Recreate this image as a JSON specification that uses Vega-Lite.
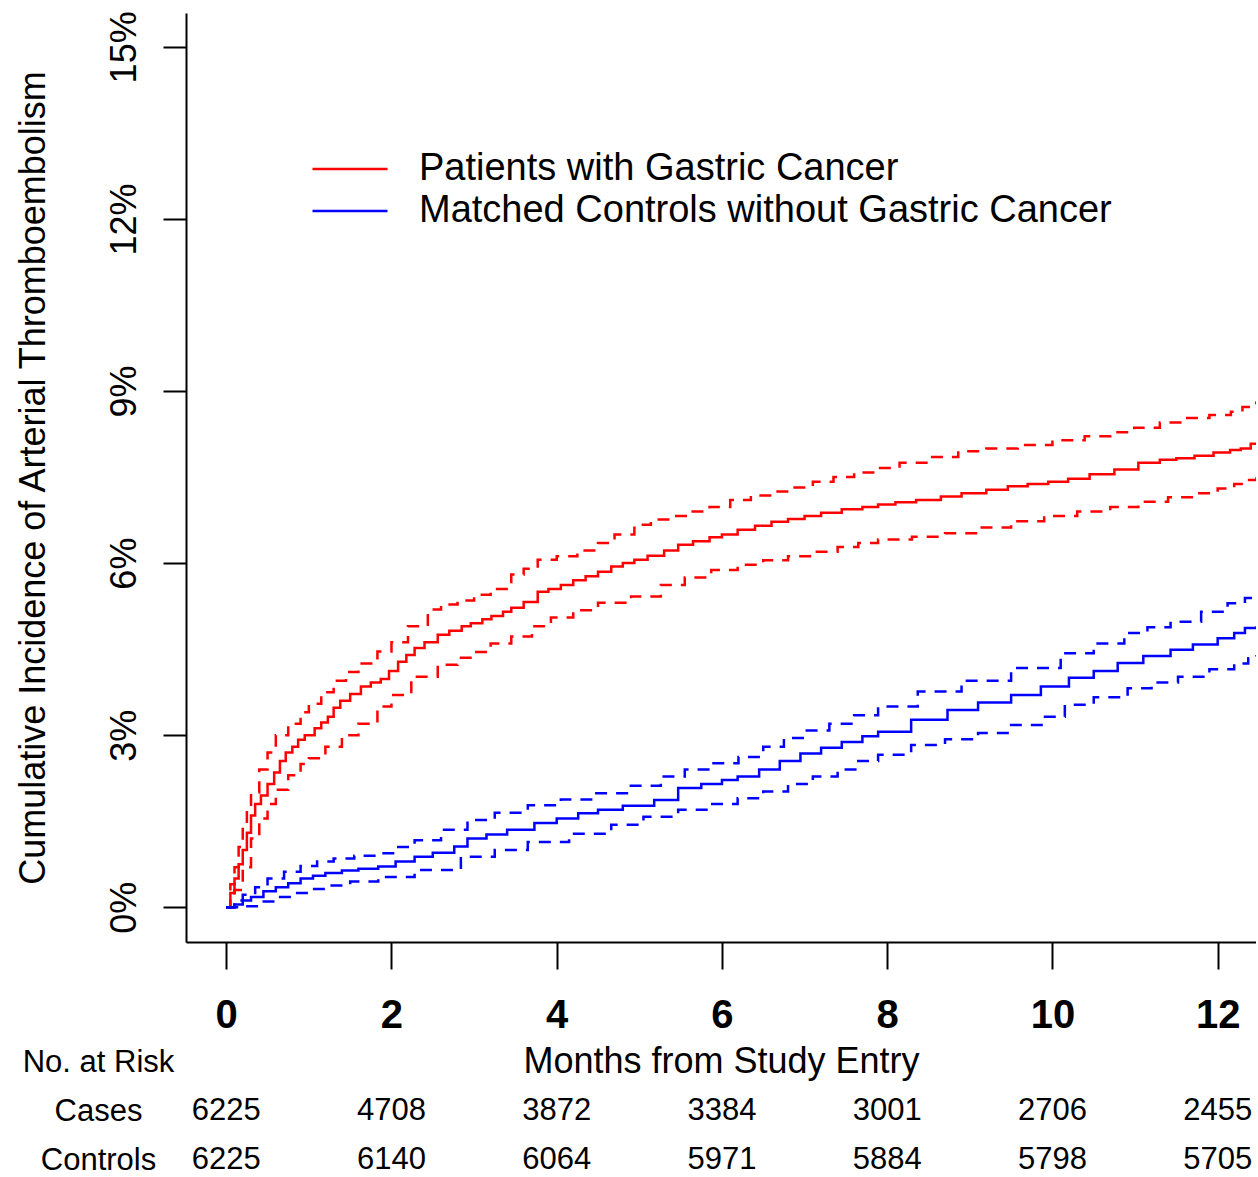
{
  "$schema": "https://vega.github.io/schema/vega-lite/v6.json",
  "background": "white",
  "padding": {"left": 14, "top": 10, "right": 0, "bottom": 0},
  "bounds": "flush",
  "spacing": 95.5,
  "config": {
    "view": {"stroke": null},
    "font": "Liberation Sans",
    "text": {"font": "Liberation Sans"},
    "axis": {"grid": false, "domainColor": "black", "tickColor": "black", "labelColor": "black", "titleColor": "black", "domainWidth": 2, "tickWidth": 2, "labelFont": "Liberation Sans", "titleFont": "Liberation Sans", "titleFontWeight": "normal"},
    "legend": {"labelFont": "Liberation Sans"}
  },
  "datasets": {
    "curves": [
      {"group":"Cases","line":"est","month":0,"pct":0},{"group":"Cases","line":"est","month":0.05,"pct":0.25},{"group":"Cases","line":"est","month":0.1,"pct":0.5},{"group":"Cases","line":"est","month":0.15,"pct":0.75},{"group":"Cases","line":"est","month":0.2,"pct":1.0},{"group":"Cases","line":"est","month":0.25,"pct":1.3},{"group":"Cases","line":"est","month":0.3,"pct":1.6},{"group":"Cases","line":"est","month":0.35,"pct":1.8},{"group":"Cases","line":"est","month":0.42,"pct":1.95},{"group":"Cases","line":"est","month":0.5,"pct":2.15},{"group":"Cases","line":"est","month":0.58,"pct":2.35},{"group":"Cases","line":"est","month":0.65,"pct":2.55},{"group":"Cases","line":"est","month":0.72,"pct":2.7},{"group":"Cases","line":"est","month":0.8,"pct":2.8},{"group":"Cases","line":"est","month":0.87,"pct":2.92},{"group":"Cases","line":"est","month":0.95,"pct":3.0},{"group":"Cases","line":"est","month":1.07,"pct":3.12},{"group":"Cases","line":"est","month":1.15,"pct":3.22},{"group":"Cases","line":"est","month":1.23,"pct":3.32},{"group":"Cases","line":"est","month":1.3,"pct":3.48},{"group":"Cases","line":"est","month":1.38,"pct":3.6},{"group":"Cases","line":"est","month":1.5,"pct":3.72},{"group":"Cases","line":"est","month":1.63,"pct":3.85},{"group":"Cases","line":"est","month":1.75,"pct":3.92},{"group":"Cases","line":"est","month":1.87,"pct":3.98},{"group":"Cases","line":"est","month":1.97,"pct":4.12},{"group":"Cases","line":"est","month":2.08,"pct":4.28},{"group":"Cases","line":"est","month":2.18,"pct":4.4},{"group":"Cases","line":"est","month":2.28,"pct":4.52},{"group":"Cases","line":"est","month":2.4,"pct":4.62},{"group":"Cases","line":"est","month":2.56,"pct":4.75},{"group":"Cases","line":"est","month":2.7,"pct":4.82},{"group":"Cases","line":"est","month":2.85,"pct":4.9},{"group":"Cases","line":"est","month":2.96,"pct":4.95},{"group":"Cases","line":"est","month":3.1,"pct":5.02},{"group":"Cases","line":"est","month":3.21,"pct":5.08},{"group":"Cases","line":"est","month":3.35,"pct":5.15},{"group":"Cases","line":"est","month":3.45,"pct":5.22},{"group":"Cases","line":"est","month":3.6,"pct":5.32},{"group":"Cases","line":"est","month":3.77,"pct":5.5},{"group":"Cases","line":"est","month":3.9,"pct":5.55},{"group":"Cases","line":"est","month":4.05,"pct":5.62},{"group":"Cases","line":"est","month":4.2,"pct":5.7},{"group":"Cases","line":"est","month":4.35,"pct":5.77},{"group":"Cases","line":"est","month":4.5,"pct":5.85},{"group":"Cases","line":"est","month":4.66,"pct":5.94},{"group":"Cases","line":"est","month":4.8,"pct":6.0},{"group":"Cases","line":"est","month":4.94,"pct":6.06},{"group":"Cases","line":"est","month":5.1,"pct":6.13},{"group":"Cases","line":"est","month":5.3,"pct":6.22},{"group":"Cases","line":"est","month":5.47,"pct":6.32},{"group":"Cases","line":"est","month":5.65,"pct":6.38},{"group":"Cases","line":"est","month":5.85,"pct":6.45},{"group":"Cases","line":"est","month":6.0,"pct":6.5},{"group":"Cases","line":"est","month":6.19,"pct":6.58},{"group":"Cases","line":"est","month":6.4,"pct":6.65},{"group":"Cases","line":"est","month":6.6,"pct":6.72},{"group":"Cases","line":"est","month":6.8,"pct":6.77},{"group":"Cases","line":"est","month":7.0,"pct":6.82},{"group":"Cases","line":"est","month":7.2,"pct":6.88},{"group":"Cases","line":"est","month":7.45,"pct":6.94},{"group":"Cases","line":"est","month":7.7,"pct":6.98},{"group":"Cases","line":"est","month":7.89,"pct":7.02},{"group":"Cases","line":"est","month":8.1,"pct":7.06},{"group":"Cases","line":"est","month":8.35,"pct":7.1},{"group":"Cases","line":"est","month":8.65,"pct":7.16},{"group":"Cases","line":"est","month":8.9,"pct":7.22},{"group":"Cases","line":"est","month":9.2,"pct":7.28},{"group":"Cases","line":"est","month":9.46,"pct":7.34},{"group":"Cases","line":"est","month":9.7,"pct":7.38},{"group":"Cases","line":"est","month":9.95,"pct":7.42},{"group":"Cases","line":"est","month":10.19,"pct":7.47},{"group":"Cases","line":"est","month":10.45,"pct":7.55},{"group":"Cases","line":"est","month":10.75,"pct":7.63},{"group":"Cases","line":"est","month":11.04,"pct":7.75},{"group":"Cases","line":"est","month":11.3,"pct":7.8},{"group":"Cases","line":"est","month":11.5,"pct":7.83},{"group":"Cases","line":"est","month":11.72,"pct":7.87},{"group":"Cases","line":"est","month":11.95,"pct":7.93},{"group":"Cases","line":"est","month":12.15,"pct":7.97},{"group":"Cases","line":"est","month":12.28,"pct":8.0},{"group":"Cases","line":"est","month":12.4,"pct":8.08},{"group":"Cases","line":"est","month":12.47,"pct":8.1},

      {"group":"Cases","line":"upper","month":0,"pct":0},{"group":"Cases","line":"upper","month":0.05,"pct":0.4},{"group":"Cases","line":"upper","month":0.1,"pct":0.7},{"group":"Cases","line":"upper","month":0.15,"pct":1.05},{"group":"Cases","line":"upper","month":0.2,"pct":1.4},{"group":"Cases","line":"upper","month":0.25,"pct":1.7},{"group":"Cases","line":"upper","month":0.3,"pct":2.0},{"group":"Cases","line":"upper","month":0.4,"pct":2.4},{"group":"Cases","line":"upper","month":0.5,"pct":2.7},{"group":"Cases","line":"upper","month":0.6,"pct":3.0},{"group":"Cases","line":"upper","month":0.75,"pct":3.2},{"group":"Cases","line":"upper","month":0.9,"pct":3.4},{"group":"Cases","line":"upper","month":1.0,"pct":3.55},{"group":"Cases","line":"upper","month":1.15,"pct":3.75},{"group":"Cases","line":"upper","month":1.3,"pct":3.95},{"group":"Cases","line":"upper","month":1.45,"pct":4.1},{"group":"Cases","line":"upper","month":1.6,"pct":4.25},{"group":"Cases","line":"upper","month":1.83,"pct":4.46},{"group":"Cases","line":"upper","month":2.0,"pct":4.62},{"group":"Cases","line":"upper","month":2.2,"pct":4.9},{"group":"Cases","line":"upper","month":2.44,"pct":5.19},{"group":"Cases","line":"upper","month":2.6,"pct":5.28},{"group":"Cases","line":"upper","month":2.8,"pct":5.35},{"group":"Cases","line":"upper","month":3.0,"pct":5.45},{"group":"Cases","line":"upper","month":3.2,"pct":5.55},{"group":"Cases","line":"upper","month":3.45,"pct":5.8},{"group":"Cases","line":"upper","month":3.6,"pct":5.9},{"group":"Cases","line":"upper","month":3.77,"pct":6.06},{"group":"Cases","line":"upper","month":4.0,"pct":6.12},{"group":"Cases","line":"upper","month":4.25,"pct":6.22},{"group":"Cases","line":"upper","month":4.5,"pct":6.35},{"group":"Cases","line":"upper","month":4.7,"pct":6.5},{"group":"Cases","line":"upper","month":4.94,"pct":6.67},{"group":"Cases","line":"upper","month":5.14,"pct":6.76},{"group":"Cases","line":"upper","month":5.35,"pct":6.82},{"group":"Cases","line":"upper","month":5.6,"pct":6.9},{"group":"Cases","line":"upper","month":5.85,"pct":6.98},{"group":"Cases","line":"upper","month":6.1,"pct":7.1},{"group":"Cases","line":"upper","month":6.35,"pct":7.18},{"group":"Cases","line":"upper","month":6.6,"pct":7.25},{"group":"Cases","line":"upper","month":6.85,"pct":7.32},{"group":"Cases","line":"upper","month":7.1,"pct":7.42},{"group":"Cases","line":"upper","month":7.35,"pct":7.5},{"group":"Cases","line":"upper","month":7.6,"pct":7.58},{"group":"Cases","line":"upper","month":7.89,"pct":7.66},{"group":"Cases","line":"upper","month":8.15,"pct":7.75},{"group":"Cases","line":"upper","month":8.5,"pct":7.85},{"group":"Cases","line":"upper","month":8.86,"pct":7.95},{"group":"Cases","line":"upper","month":9.2,"pct":8.0},{"group":"Cases","line":"upper","month":9.58,"pct":8.06},{"group":"Cases","line":"upper","month":10.0,"pct":8.14},{"group":"Cases","line":"upper","month":10.39,"pct":8.21},{"group":"Cases","line":"upper","month":10.7,"pct":8.28},{"group":"Cases","line":"upper","month":10.99,"pct":8.36},{"group":"Cases","line":"upper","month":11.3,"pct":8.45},{"group":"Cases","line":"upper","month":11.6,"pct":8.53},{"group":"Cases","line":"upper","month":11.9,"pct":8.58},{"group":"Cases","line":"upper","month":12.16,"pct":8.64},{"group":"Cases","line":"upper","month":12.3,"pct":8.72},{"group":"Cases","line":"upper","month":12.4,"pct":8.79},{"group":"Cases","line":"upper","month":12.47,"pct":8.82},

      {"group":"Cases","line":"lower","month":0,"pct":0},{"group":"Cases","line":"lower","month":0.1,"pct":0.3},{"group":"Cases","line":"lower","month":0.2,"pct":0.7},{"group":"Cases","line":"lower","month":0.3,"pct":1.2},{"group":"Cases","line":"lower","month":0.4,"pct":1.55},{"group":"Cases","line":"lower","month":0.5,"pct":1.8},{"group":"Cases","line":"lower","month":0.6,"pct":2.05},{"group":"Cases","line":"lower","month":0.75,"pct":2.3},{"group":"Cases","line":"lower","month":0.9,"pct":2.5},{"group":"Cases","line":"lower","month":1.0,"pct":2.6},{"group":"Cases","line":"lower","month":1.2,"pct":2.8},{"group":"Cases","line":"lower","month":1.4,"pct":3.0},{"group":"Cases","line":"lower","month":1.6,"pct":3.2},{"group":"Cases","line":"lower","month":1.83,"pct":3.5},{"group":"Cases","line":"lower","month":2.0,"pct":3.7},{"group":"Cases","line":"lower","month":2.24,"pct":4.02},{"group":"Cases","line":"lower","month":2.56,"pct":4.23},{"group":"Cases","line":"lower","month":2.8,"pct":4.35},{"group":"Cases","line":"lower","month":3.0,"pct":4.45},{"group":"Cases","line":"lower","month":3.2,"pct":4.6},{"group":"Cases","line":"lower","month":3.45,"pct":4.72},{"group":"Cases","line":"lower","month":3.7,"pct":4.9},{"group":"Cases","line":"lower","month":3.93,"pct":5.05},{"group":"Cases","line":"lower","month":4.2,"pct":5.18},{"group":"Cases","line":"lower","month":4.5,"pct":5.31},{"group":"Cases","line":"lower","month":4.9,"pct":5.42},{"group":"Cases","line":"lower","month":5.26,"pct":5.62},{"group":"Cases","line":"lower","month":5.55,"pct":5.75},{"group":"Cases","line":"lower","month":5.87,"pct":5.88},{"group":"Cases","line":"lower","month":6.19,"pct":5.97},{"group":"Cases","line":"lower","month":6.5,"pct":6.05},{"group":"Cases","line":"lower","month":6.8,"pct":6.12},{"group":"Cases","line":"lower","month":7.1,"pct":6.2},{"group":"Cases","line":"lower","month":7.4,"pct":6.28},{"group":"Cases","line":"lower","month":7.65,"pct":6.35},{"group":"Cases","line":"lower","month":7.89,"pct":6.41},{"group":"Cases","line":"lower","month":8.3,"pct":6.46},{"group":"Cases","line":"lower","month":8.7,"pct":6.52},{"group":"Cases","line":"lower","month":9.1,"pct":6.62},{"group":"Cases","line":"lower","month":9.5,"pct":6.73},{"group":"Cases","line":"lower","month":9.9,"pct":6.82},{"group":"Cases","line":"lower","month":10.3,"pct":6.9},{"group":"Cases","line":"lower","month":10.7,"pct":6.98},{"group":"Cases","line":"lower","month":11.04,"pct":7.07},{"group":"Cases","line":"lower","month":11.4,"pct":7.15},{"group":"Cases","line":"lower","month":11.72,"pct":7.22},{"group":"Cases","line":"lower","month":12.0,"pct":7.3},{"group":"Cases","line":"lower","month":12.2,"pct":7.38},{"group":"Cases","line":"lower","month":12.33,"pct":7.45},{"group":"Cases","line":"lower","month":12.47,"pct":7.5},

      {"group":"Controls","line":"est","month":0,"pct":0},{"group":"Controls","line":"est","month":0.1,"pct":0.05},{"group":"Controls","line":"est","month":0.2,"pct":0.12},{"group":"Controls","line":"est","month":0.3,"pct":0.18},{"group":"Controls","line":"est","month":0.45,"pct":0.28},{"group":"Controls","line":"est","month":0.6,"pct":0.35},{"group":"Controls","line":"est","month":0.75,"pct":0.42},{"group":"Controls","line":"est","month":0.9,"pct":0.5},{"group":"Controls","line":"est","month":1.05,"pct":0.55},{"group":"Controls","line":"est","month":1.2,"pct":0.6},{"group":"Controls","line":"est","month":1.4,"pct":0.64},{"group":"Controls","line":"est","month":1.6,"pct":0.67},{"group":"Controls","line":"est","month":1.84,"pct":0.71},{"group":"Controls","line":"est","month":2.05,"pct":0.8},{"group":"Controls","line":"est","month":2.28,"pct":0.88},{"group":"Controls","line":"est","month":2.5,"pct":0.95},{"group":"Controls","line":"est","month":2.76,"pct":1.06},{"group":"Controls","line":"est","month":2.92,"pct":1.2},{"group":"Controls","line":"est","month":3.15,"pct":1.27},{"group":"Controls","line":"est","month":3.4,"pct":1.35},{"group":"Controls","line":"est","month":3.73,"pct":1.47},{"group":"Controls","line":"est","month":4.0,"pct":1.55},{"group":"Controls","line":"est","month":4.26,"pct":1.64},{"group":"Controls","line":"est","month":4.5,"pct":1.7},{"group":"Controls","line":"est","month":4.8,"pct":1.77},{"group":"Controls","line":"est","month":5.18,"pct":1.87},{"group":"Controls","line":"est","month":5.47,"pct":2.08},{"group":"Controls","line":"est","month":5.75,"pct":2.15},{"group":"Controls","line":"est","month":6.0,"pct":2.22},{"group":"Controls","line":"est","month":6.19,"pct":2.28},{"group":"Controls","line":"est","month":6.45,"pct":2.4},{"group":"Controls","line":"est","month":6.7,"pct":2.55},{"group":"Controls","line":"est","month":6.95,"pct":2.68},{"group":"Controls","line":"est","month":7.2,"pct":2.78},{"group":"Controls","line":"est","month":7.45,"pct":2.88},{"group":"Controls","line":"est","month":7.7,"pct":2.98},{"group":"Controls","line":"est","month":7.89,"pct":3.06},{"group":"Controls","line":"est","month":8.29,"pct":3.27},{"group":"Controls","line":"est","month":8.73,"pct":3.44},{"group":"Controls","line":"est","month":9.1,"pct":3.57},{"group":"Controls","line":"est","month":9.5,"pct":3.7},{"group":"Controls","line":"est","month":9.86,"pct":3.85},{"group":"Controls","line":"est","month":10.2,"pct":4.0},{"group":"Controls","line":"est","month":10.5,"pct":4.12},{"group":"Controls","line":"est","month":10.79,"pct":4.26},{"group":"Controls","line":"est","month":11.1,"pct":4.38},{"group":"Controls","line":"est","month":11.43,"pct":4.49},{"group":"Controls","line":"est","month":11.7,"pct":4.58},{"group":"Controls","line":"est","month":12.0,"pct":4.69},{"group":"Controls","line":"est","month":12.2,"pct":4.78},{"group":"Controls","line":"est","month":12.33,"pct":4.87},{"group":"Controls","line":"est","month":12.47,"pct":4.9},

      {"group":"Controls","line":"upper","month":0,"pct":0},{"group":"Controls","line":"upper","month":0.1,"pct":0.12},{"group":"Controls","line":"upper","month":0.2,"pct":0.22},{"group":"Controls","line":"upper","month":0.35,"pct":0.35},{"group":"Controls","line":"upper","month":0.5,"pct":0.5},{"group":"Controls","line":"upper","month":0.7,"pct":0.62},{"group":"Controls","line":"upper","month":0.9,"pct":0.72},{"group":"Controls","line":"upper","month":1.1,"pct":0.8},{"group":"Controls","line":"upper","month":1.3,"pct":0.85},{"group":"Controls","line":"upper","month":1.55,"pct":0.9},{"group":"Controls","line":"upper","month":1.84,"pct":0.94},{"group":"Controls","line":"upper","month":2.05,"pct":1.05},{"group":"Controls","line":"upper","month":2.28,"pct":1.17},{"group":"Controls","line":"upper","month":2.6,"pct":1.35},{"group":"Controls","line":"upper","month":2.92,"pct":1.52},{"group":"Controls","line":"upper","month":3.25,"pct":1.65},{"group":"Controls","line":"upper","month":3.65,"pct":1.78},{"group":"Controls","line":"upper","month":4.05,"pct":1.88},{"group":"Controls","line":"upper","month":4.46,"pct":1.99},{"group":"Controls","line":"upper","month":4.85,"pct":2.12},{"group":"Controls","line":"upper","month":5.26,"pct":2.28},{"group":"Controls","line":"upper","month":5.55,"pct":2.4},{"group":"Controls","line":"upper","month":5.87,"pct":2.51},{"group":"Controls","line":"upper","month":6.2,"pct":2.62},{"group":"Controls","line":"upper","month":6.5,"pct":2.8},{"group":"Controls","line":"upper","month":6.75,"pct":2.95},{"group":"Controls","line":"upper","month":7.0,"pct":3.08},{"group":"Controls","line":"upper","month":7.3,"pct":3.2},{"group":"Controls","line":"upper","month":7.6,"pct":3.35},{"group":"Controls","line":"upper","month":7.89,"pct":3.5},{"group":"Controls","line":"upper","month":8.37,"pct":3.76},{"group":"Controls","line":"upper","month":8.9,"pct":3.95},{"group":"Controls","line":"upper","month":9.5,"pct":4.17},{"group":"Controls","line":"upper","month":10.1,"pct":4.43},{"group":"Controls","line":"upper","month":10.5,"pct":4.6},{"group":"Controls","line":"upper","month":10.87,"pct":4.78},{"group":"Controls","line":"upper","month":11.15,"pct":4.88},{"group":"Controls","line":"upper","month":11.43,"pct":4.98},{"group":"Controls","line":"upper","month":11.8,"pct":5.15},{"group":"Controls","line":"upper","month":12.12,"pct":5.3},{"group":"Controls","line":"upper","month":12.33,"pct":5.39},{"group":"Controls","line":"upper","month":12.47,"pct":5.42},

      {"group":"Controls","line":"lower","month":0,"pct":0},{"group":"Controls","line":"lower","month":0.2,"pct":0.02},{"group":"Controls","line":"lower","month":0.4,"pct":0.1},{"group":"Controls","line":"lower","month":0.6,"pct":0.18},{"group":"Controls","line":"lower","month":0.8,"pct":0.25},{"group":"Controls","line":"lower","month":1.0,"pct":0.32},{"group":"Controls","line":"lower","month":1.25,"pct":0.38},{"group":"Controls","line":"lower","month":1.5,"pct":0.45},{"group":"Controls","line":"lower","month":1.84,"pct":0.53},{"group":"Controls","line":"lower","month":2.28,"pct":0.65},{"group":"Controls","line":"lower","month":2.84,"pct":0.88},{"group":"Controls","line":"lower","month":3.25,"pct":1.0},{"group":"Controls","line":"lower","month":3.65,"pct":1.14},{"group":"Controls","line":"lower","month":4.15,"pct":1.28},{"group":"Controls","line":"lower","month":4.66,"pct":1.44},{"group":"Controls","line":"lower","month":5.05,"pct":1.58},{"group":"Controls","line":"lower","month":5.47,"pct":1.7},{"group":"Controls","line":"lower","month":5.85,"pct":1.8},{"group":"Controls","line":"lower","month":6.19,"pct":1.9},{"group":"Controls","line":"lower","month":6.5,"pct":2.02},{"group":"Controls","line":"lower","month":6.8,"pct":2.15},{"group":"Controls","line":"lower","month":7.1,"pct":2.28},{"group":"Controls","line":"lower","month":7.4,"pct":2.4},{"group":"Controls","line":"lower","month":7.65,"pct":2.55},{"group":"Controls","line":"lower","month":7.89,"pct":2.66},{"group":"Controls","line":"lower","month":8.29,"pct":2.83},{"group":"Controls","line":"lower","month":8.7,"pct":2.93},{"group":"Controls","line":"lower","month":9.1,"pct":3.04},{"group":"Controls","line":"lower","month":9.5,"pct":3.18},{"group":"Controls","line":"lower","month":9.91,"pct":3.32},{"group":"Controls","line":"lower","month":10.15,"pct":3.53},{"group":"Controls","line":"lower","month":10.5,"pct":3.66},{"group":"Controls","line":"lower","month":10.91,"pct":3.82},{"group":"Controls","line":"lower","month":11.2,"pct":3.92},{"group":"Controls","line":"lower","month":11.52,"pct":4.02},{"group":"Controls","line":"lower","month":11.9,"pct":4.15},{"group":"Controls","line":"lower","month":12.2,"pct":4.25},{"group":"Controls","line":"lower","month":12.37,"pct":4.34},{"group":"Controls","line":"lower","month":12.47,"pct":4.4}
    ],
    "risk": [
      {"row":"Cases","month":0,"n":"6225"},{"row":"Cases","month":2,"n":"4708"},{"row":"Cases","month":4,"n":"3872"},{"row":"Cases","month":6,"n":"3384"},{"row":"Cases","month":8,"n":"3001"},{"row":"Cases","month":10,"n":"2706"},{"row":"Cases","month":12,"n":"2455"},
      {"row":"Controls","month":0,"n":"6225"},{"row":"Controls","month":2,"n":"6140"},{"row":"Controls","month":4,"n":"6064"},{"row":"Controls","month":6,"n":"5971"},{"row":"Controls","month":8,"n":"5884"},{"row":"Controls","month":10,"n":"5798"},{"row":"Controls","month":12,"n":"5705"}
    ]
  },
  "vconcat": [
    {
      "width": 1070,
      "height": 929,
      "data": {"name": "curves"},
      "mark": {"type": "line", "interpolate": "step-after", "strokeWidth": 2.5, "clip": true},
      "encoding": {
        "x": {
          "field": "month", "type": "quantitative",
          "scale": {"domain": [-0.487, 12.464], "nice": false, "zero": false},
          "axis": {"values": [0, 2, 4, 6, 8, 10, 12], "tickSize": 27, "labelFontSize": 40, "labelFontWeight": "bold", "labelBaseline": "alphabetic", "labelPadding": 58, "labelFlush": false, "title": "Months from Study Entry", "titleFontSize": 36, "titleBaseline": "alphabetic", "titleY": 130}
        },
        "y": {
          "field": "pct", "type": "quantitative",
          "scale": {"domain": [-0.605, 15.59], "nice": false, "zero": false},
          "axis": {"values": [0, 3, 6, 9, 12, 15], "labelExpr": "datum.value + '%'", "labelAngle": -90, "labelAlign": "center", "labelBaseline": "alphabetic", "tickSize": 23, "labelPadding": 28, "labelFontSize": 36, "labelFlush": false, "title": "Cumulative Incidence of Arterial Thromboembolism", "titleFontSize": 36, "titleBaseline": "alphabetic", "titleX": -142}
        },
        "color": {
          "field": "group", "type": "nominal",
          "scale": {"domain": ["Cases", "Controls"], "range": ["#FF0000", "#0000FF"]},
          "legend": {"orient": "none", "legendX": 145, "legendY": 137, "padding": 0, "title": null, "symbolType": "M-2.5,0H2.5", "symbolSize": 900, "symbolStrokeWidth": 2.5, "labelFontSize": 38, "labelColor": "black", "labelOffset": 50, "labelLimit": 0, "rowPadding": 4, "labelExpr": "datum.label == 'Cases' ? 'Patients with Gastric Cancer' : 'Matched Controls without Gastric Cancer'"}
        },
        "strokeDash": {
          "field": "line", "type": "nominal",
          "scale": {"domain": ["est", "lower", "upper"], "range": [[1, 0], [12, 9], [12, 9]]},
          "legend": null
        }
      }
    },
    {
      "width": 1070,
      "height": 147,
      "data": {"name": "risk"},
      "mark": {"type": "text", "fontSize": 31, "color": "black", "font": "Liberation Sans"},
      "encoding": {
        "x": {"field": "month", "type": "quantitative", "scale": {"domain": [-0.487, 12.464], "nice": false, "zero": false}, "axis": null},
        "y": {
          "field": "row", "type": "ordinal",
          "scale": {"type": "point", "domain": ["No. at Risk", "Cases", "Controls"], "padding": 0.5},
          "axis": {"title": null, "domain": false, "ticks": false, "labelAlign": "center", "labelBaseline": "middle", "labelPadding": 88, "labelFontSize": 31, "labelFont": "Liberation Sans"}
        },
        "text": {"field": "n"}
      }
    }
  ]
}
